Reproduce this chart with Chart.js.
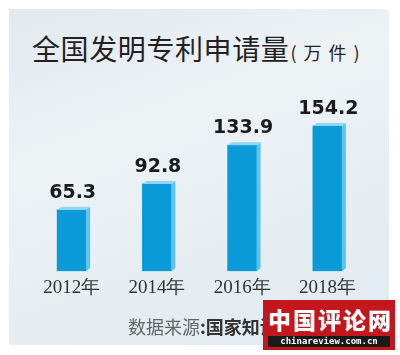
<!DOCTYPE html>
<html>
<head>
<meta charset="utf-8">
<script src="https://cdn.jsdelivr.net/npm/chart.js@4"></script>
<style>
  html, body { margin: 0; padding: 0; background: #ffffff; }
  #wrap { position: relative; width: 400px; height: 355px; overflow: hidden; background: #fff; }
  #panel { position: absolute; left: 9px; top: 9px; width: 380px; height: 336px;
    background: linear-gradient(160deg, #e2eaef 0%, #edf2f5 35%, #e8eff3 60%, #e0eaf0 100%); }
  #title { position: absolute; left: 32px; top: 28px; font-family: "Noto Sans CJK SC"; font-size: 28px;
    color: #222; white-space: nowrap; letter-spacing: 0.6px; font-weight: 400; }
  #title span { font-size: 18px; letter-spacing: 7px; margin-left: 1px; }
  #src { position: absolute; left: 128px; top: 313px; font-family: "Noto Sans CJK SC"; font-size: 18px; color: #666; white-space: nowrap; }
  #src b { color: #333; font-weight: 700; }
  #wm { position: absolute; left: 263px; top: 300px; width: 132px; height: 50px; background: #c3171d; }
  #wm .cn { position: absolute; left: 5px; top: 2px; font-family: "Noto Sans CJK SC"; font-weight: 900; font-size: 23px; color: #fff; letter-spacing: 2px; white-space: nowrap; }
  #wm .en { position: absolute; left: 5px; top: 36px; width: 122px; height: 11px; background: #1a1a1a; color: #fff;
    font-family: "DejaVu Sans Mono"; font-weight: bold; font-size: 9px; line-height: 11px; text-align: center; }
  canvas { position: absolute; left: 0; top: 0; }
</style>
</head>
<body>
<div id="wrap">
  <div id="panel"></div>
  <div id="title">全国发明专利申请量<span>(万件)</span></div>
  <canvas id="c" width="400" height="355"></canvas>
  <div id="src">数据来源<b>:国家知识产权局</b></div>
  <div id="wm"><div class="cn">中国评论网</div><div class="en">chinareview.com.cn</div></div>
</div>
<script>
const categories = ["2012年", "2014年", "2016年", "2018年"];
const applications = [65.3, 92.8, 133.9, 154.2];

const bar3d = {
  id: 'bar3d',
  afterDatasetsDraw(chart) {
    const ctx = chart.ctx;
    const meta = chart.getDatasetMeta(0);
    meta.data.forEach((bar, i) => {
      const half = bar.width / 2;
      const l = bar.x - half, r = bar.x + half, t = bar.y, b = bar.base;
      const dx = 4, dy = 3;
      ctx.save();
      ctx.fillStyle = '#5ec4ef';
      ctx.beginPath();
      ctx.moveTo(r, t); ctx.lineTo(r + dx, t - dy); ctx.lineTo(r + dx, b - dy); ctx.lineTo(r, b);
      ctx.closePath(); ctx.fill();
      ctx.fillStyle = '#8fd6f4';
      ctx.beginPath();
      ctx.moveTo(l, t); ctx.lineTo(l + dx, t - dy); ctx.lineTo(r + dx, t - dy); ctx.lineTo(r, t);
      ctx.closePath(); ctx.fill();
      ctx.fillStyle = '#1b1b1b';
      ctx.font = 'bold 19px "DejaVu Sans"';
      ctx.textAlign = 'center';
      ctx.textBaseline = 'alphabetic';
      ctx.fillText(applications[i].toFixed(1), bar.x + 1, t - 12);
      ctx.restore();
    });
  }
};

new Chart(document.getElementById('c'), {
  type: 'bar',
  data: {
    labels: categories,
    datasets: [{
      data: applications,
      backgroundColor: '#0a9ad8',
      barThickness: 29,
      borderWidth: 0
    }]
  },
  options: {
    responsive: false,
    animation: false,
    events: [],
    layout: { padding: { left: 29, right: 30, top: 83, bottom: 51 } },
    plugins: { legend: { display: false }, tooltip: { enabled: false }, title: { display: false } },
    scales: {
      x: {
        grid: { display: false, drawTicks: false },
        border: { display: false },
        ticks: { color: '#333', padding: 5, font: { family: '"Liberation Serif"', size: 19 } }
      },
      y: { display: false, min: 0, max: 200 }
    }
  },
  plugins: [bar3d]
});
</script>
</body>
</html>
